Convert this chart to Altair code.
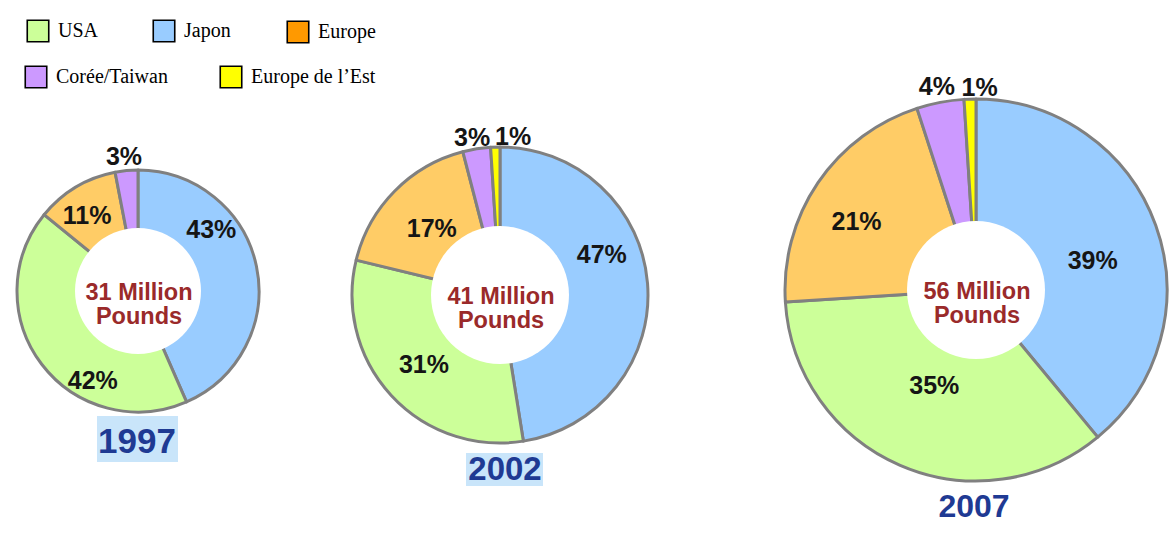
import math
import altair as alt
import pandas as pd

# ---- data ----
years = ["1997", "2002", "2007"]
categories = ["Japon", "USA", "Europe", "Corée/Taiwan", "Europe de l'Est"]
share_1997 = [43, 42, 11, 3, 0]
share_2002 = [47, 31, 17, 3, 1]
share_2007 = [39, 35, 21, 4, 1]
totals = ["31 Million", "41 Million", "56 Million"]
unit = "Pounds"

legend_labels = ["USA", "Japon", "Europe", "Corée/Taiwan", "Europe de l\u2019Est"]

# ---- styles ----
pie_colors = ["#99CCFF", "#CCFF99", "#FFCC66", "#CC99FF", "#FFFF00"]
legend_colors = ["#CCFF99", "#99CCFF", "#FF9900", "#CC99FF", "#FFFF00"]
EDGE = "#808080"
CENTER_COLOR = "#9A2A2A"
YEAR_COLOR = "#1F3A93"
HILITE = "#C9E5FA"

# ---- layout (pixels) ----
layout = {
    "1997": dict(cx=138, cy=291, R=121, r=63,
                 frac=[0.32, 0.33, 0.42, 0.45, 0], rad=[0.79, 0.83, 0.75, 1.11, 0],
                 yx=137, yy=442, ys=35, hl=(97, 178, 416, 462)),
    "2002": dict(cx=500, cy=295, R=148, r=69,
                 frac=[0.40, 0.50, 0.49, 0.41, 2.3], rad=[0.74, 0.70, 0.64, 1.08, 1.07],
                 yx=505, yy=470, ys=33, hl=(466, 543, 453, 486)),
    "2007": dict(cx=976, cy=290, R=191, r=69,
                 frac=[0.54, 0.50, 0.44, 0.49, 1.28], rad=[0.63, 0.55, 0.72, 1.08, 1.06],
                 yx=974, yy=507, ys=32, hl=None),
}
legend_x = [38, 164, 298, 36, 231]
legend_y = [31, 31, 32, 77, 77]

shares = {"1997": share_1997, "2002": share_2002, "2007": share_2007}

layers = []

for yr, tot in zip(years, totals):
    L = layout[yr]
    cx, cy, R, r = L["cx"], L["cy"], L["R"], L["r"]
    df = pd.DataFrame({
        "cat": categories,
        "value": shares[yr],
        "order": list(range(len(categories))),
        "hex": pie_colors,
        "frac": L["frac"],
        "rad": L["rad"],
    })
    base = (
        alt.Chart(df)
        .transform_filter("datum.value > 0")
        .transform_joinaggregate(total="sum(value)")
        .transform_window(cum="sum(value)", sort=[alt.SortField("order")], frame=[None, 0])
        .transform_calculate(
            t1="2*PI*datum.cum/datum.total",
            t0="2*PI*(datum.cum-datum.value)/datum.total",
        )
    )
    if L["hl"] is not None:
        x1, x2, y1, y2 = L["hl"]
        layers.append(
            alt.Chart(pd.DataFrame({"k": [yr]})).mark_rect(color=HILITE).encode(
                x=alt.value(x1), x2=alt.value(x2), y=alt.value(y1), y2=alt.value(y2)
            )
        )
    arcs = base.mark_arc(radius=R, stroke=EDGE, strokeWidth=3, strokeJoin="round").encode(
        x=alt.value(cx), y=alt.value(cy),
        theta=alt.Theta("t0:Q", scale=None), theta2="t1:Q",
        color=alt.Color("hex:N", scale=None),
    )
    hole = alt.Chart(pd.DataFrame({"k": [yr]})).mark_arc(
        radius=r, theta=0, theta2=2 * math.pi, fill="white", strokeWidth=0
    ).encode(x=alt.value(cx), y=alt.value(cy))
    center = alt.Chart(pd.DataFrame({"t": [tot + "\n" + unit]})).mark_text(
        lineBreak="\n", font="Liberation Sans", fontWeight="bold", fontSize=23.5,
        color=CENTER_COLOR, lineHeight=24, baseline="middle", align="center",
    ).encode(x=alt.value(cx + 1), y=alt.value(cy + 2), text="t:N")
    labels = base.transform_calculate(
        mid="datum.t0 + datum.frac*(datum.t1-datum.t0)",
        lx=f"{cx} + datum.rad*{R}*sin(datum.mid)",
        ly=f"{cy} - datum.rad*{R}*cos(datum.mid)",
        lab="datum.value + '%'",
    ).mark_text(
        font="Liberation Sans", fontWeight="bold", fontSize=25, color="#151515",
        baseline="middle", align="center",
    ).encode(
        x=alt.X("lx:Q", scale=None, axis=None),
        y=alt.Y("ly:Q", scale=None, axis=None),
        text="lab:N",
    )
    year_lbl = alt.Chart(pd.DataFrame({"t": [yr]})).mark_text(
        font="Liberation Sans", fontWeight="bold", fontSize=L["ys"], color=YEAR_COLOR,
        baseline="middle", align="center",
    ).encode(x=alt.value(L["yx"]), y=alt.value(L["yy"]), text="t:N")
    layers += [arcs, hole, center, labels, year_lbl]

leg_df = pd.DataFrame({"label": legend_labels, "hex": legend_colors, "px": legend_x, "py": legend_y})
leg_sq = alt.Chart(leg_df).mark_square(size=462, stroke="black", strokeWidth=1.6, opacity=1, filled=True).encode(
    x=alt.X("px:Q", scale=None, axis=None), y=alt.Y("py:Q", scale=None, axis=None),
    fill=alt.Fill("hex:N", scale=None),
)
leg_tx = alt.Chart(leg_df).mark_text(
    align="left", baseline="middle", dx=20, font="Liberation Serif", fontSize=20, color="black"
).encode(
    x=alt.X("px:Q", scale=None, axis=None), y=alt.Y("py:Q", scale=None, axis=None), text="label:N"
)
layers += [leg_sq, leg_tx]

chart = alt.layer(*layers).properties(
    width=1176, height=539, autosize="none", padding=0
).configure_view(stroke=None)

chart.save("out.html", embed_options={"renderer": "svg", "actions": False})
